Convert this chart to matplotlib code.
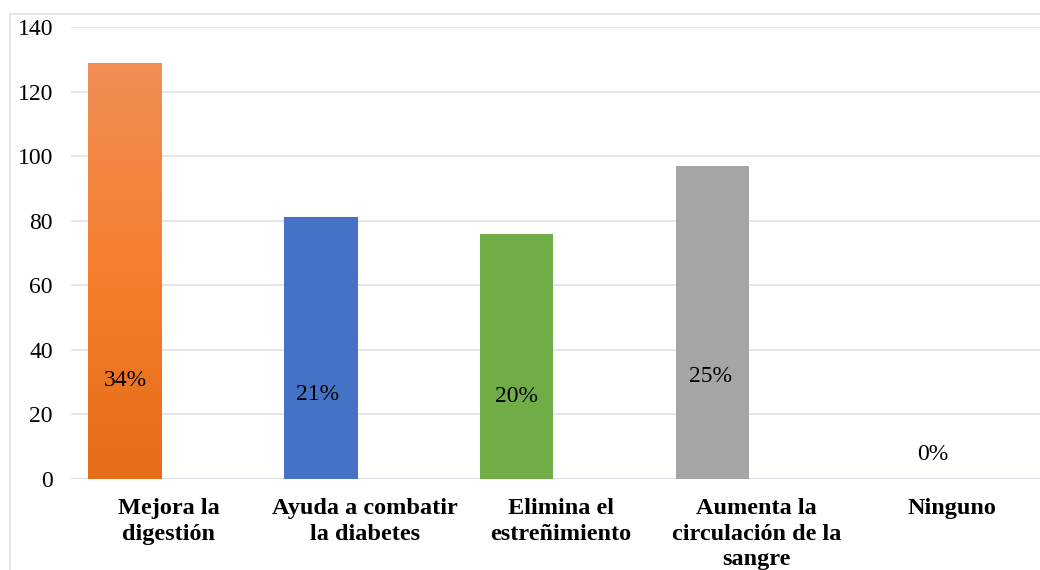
import numpy as np
import matplotlib
matplotlib.use("Agg")
import matplotlib.pyplot as plt
from matplotlib.colors import LinearSegmentedColormap
from matplotlib.patches import Rectangle

# Beneficios percibidos: número de respuestas por categoría
categories = [
    "Mejora la\ndigestión",
    "Ayuda a combatir\nla diabetes",
    "Elimina el\nestreñimiento",
    "Aumenta la\ncirculación de la\nsangre",
    "Ninguno",
]
counts = [129, 81, 76, 97, 0]
y_ticks = [0, 20, 40, 60, 80, 100, 120, 140]

# Estilo
bar_colors = ["#F07A24", "#4472C4", "#70AD47", "#A5A5A5", "#FFC000"]
grid_color = "#DDE2EA"
bar_offset = -0.224
bar_width = 0.376
label_dx = [0.0, -0.015, 0.0, -0.01, 0.124]
label_y = [30.4, 26.3, 25.7, 31.6, 7.7]

plt.rcParams["font.family"] = ["Liberation Serif", "DejaVu Serif"]

W, H, DPI = 1040, 570, 100
fig = plt.figure(figsize=(W / DPI, H / DPI), dpi=DPI)

# Chart area border (extends past the right and bottom edges)
fig.patches.append(Rectangle((10 / W, -0.1), 1.2, (H - 14) / H + 0.1,
                             transform=fig.transFigure, fill=False,
                             edgecolor=grid_color, linewidth=1.2))

ax_left, ax_right = 71, 1050
ax_bottom, ax_top = H - 479, H - 27
ax = fig.add_axes([ax_left / W, ax_bottom / H,
                   (ax_right - ax_left) / W, (ax_top - ax_bottom) / H])
ax.set_xlim(-0.5, len(categories) - 0.5)
ax.set_ylim(0, 140)
ax.set_yticks(y_ticks)
ax.yaxis.grid(True, color=grid_color, linewidth=1.2)
ax.set_axisbelow(True)
for s in ax.spines.values():
    s.set_visible(False)
ax.tick_params(axis="both", length=0)
ax.tick_params(axis="y", labelsize=17, pad=13)
ax.set_xticks(range(len(categories)))
ax.set_xticklabels(categories, fontsize=17.5, fontweight="bold",
                   linespacing=1.26)
ax.tick_params(axis="x", pad=14)
ax.axhline(0, color=grid_color, linewidth=1.4, zorder=1)

xs = np.arange(len(categories)) + bar_offset
bars = ax.bar(xs, counts, width=bar_width, color=bar_colors, zorder=2)

# Vertical gradient on the first bar
grad = LinearSegmentedColormap.from_list(
    "naranja", ["#E56C18", "#F57F2C", "#F18E57"])
b0 = bars[0]
b0.set_facecolor("none")
x0 = b0.get_x()
img = ax.imshow(np.linspace(0, 1, 256).reshape(-1, 1), cmap=grad,
                origin="lower", aspect="auto",
                extent=(x0, x0 + b0.get_width(), 0, b0.get_height()),
                zorder=2)
img.set_clip_path(b0)
ax.set_xlim(-0.5, len(categories) - 0.5)
ax.set_ylim(0, 140)

total = sum(counts)
for i, c in enumerate(counts):
    pct = round(100 * c / total)
    ax.text(xs[i] + label_dx[i], label_y[i], f"{pct}%", ha="center",
            va="center", fontsize=17, color="black", zorder=3)

fig.savefig("out.png", dpi=DPI)
